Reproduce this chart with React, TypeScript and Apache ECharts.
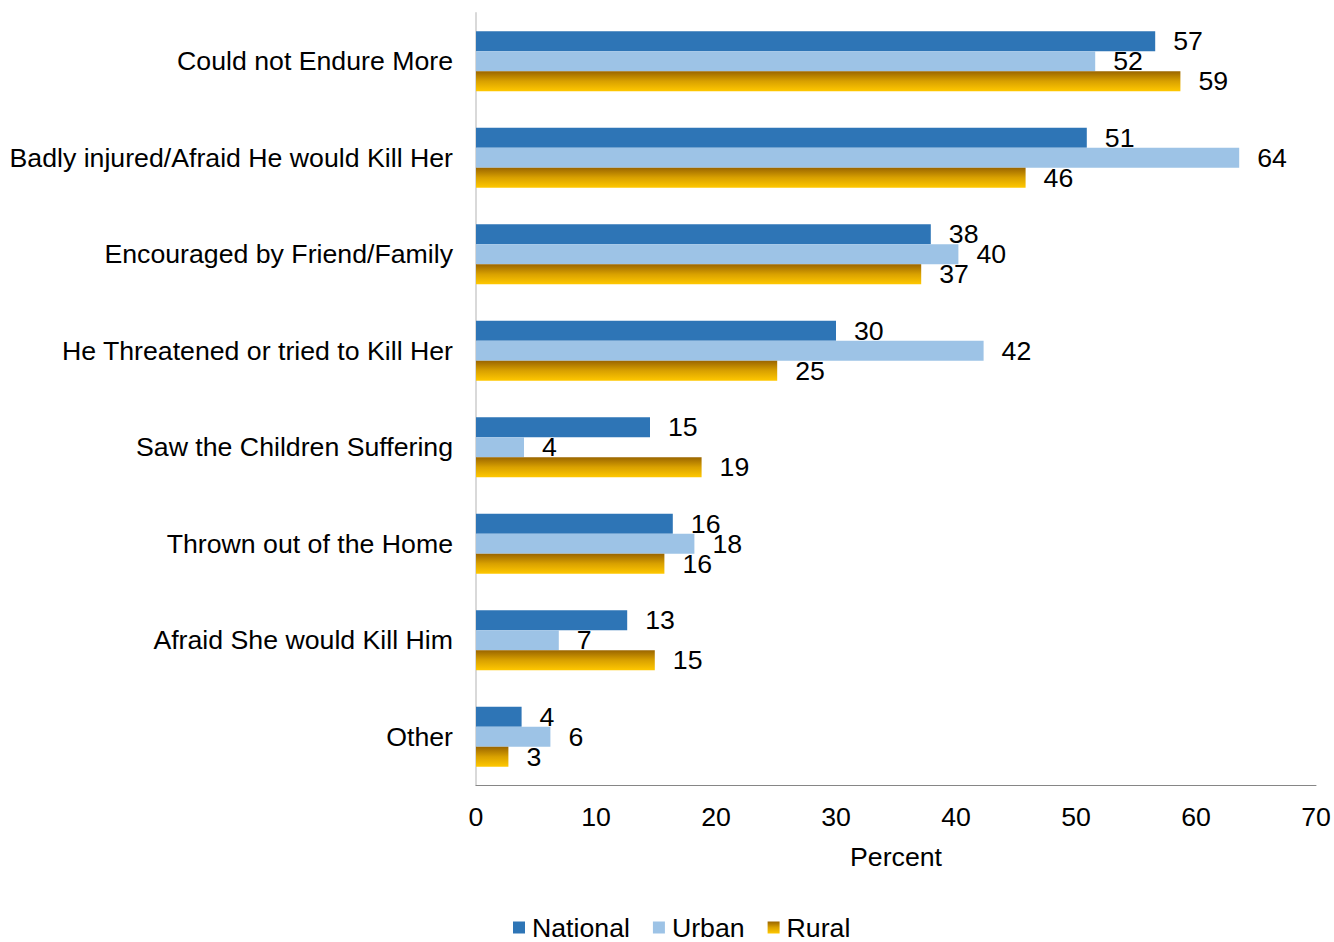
import React, { useEffect, useRef } from "react";
import * as echarts from "echarts";

const categories = [
  "Could not Endure More",
  "Badly injured/Afraid He would Kill Her",
  "Encouraged by Friend/Family",
  "He Threatened or tried to Kill Her",
  "Saw the Children Suffering",
  "Thrown out of the Home",
  "Afraid She would Kill Him",
  "Other",
];
const national = [56.6, 50.9, 37.9, 30.0, 14.5, 16.4, 12.6, 3.8];
const urban = [51.6, 63.6, 40.2, 42.3, 4.0, 18.2, 6.9, 6.2];
const rural = [58.7, 45.8, 37.1, 25.1, 18.8, 15.7, 14.9, 2.7];
const xTicks = { min: 0, max: 70, interval: 10 };

const FONT = "'Liberation Sans', Arial, sans-serif";
const FS = 26.7;

export default function App() {
  const ref = useRef<HTMLDivElement>(null);
  useEffect(() => {
    document.body.style.margin = "0";
    const chart = echarts.init(ref.current!, null, { renderer: "svg" });
    const label = {
      show: true,
      position: "right",
      distance: 18,
      fontSize: FS,
      fontFamily: FONT,
      color: "#000",
      formatter: (p: any) => String(Math.round(p.value)),
    };
    const ruralGradient = new echarts.graphic.LinearGradient(0, 0, 0, 1, [
      { offset: 0, color: "#9A6500" },
      { offset: 0.5, color: "#D9A100" },
      { offset: 1, color: "#FFC800" },
    ]);
    chart.setOption({
      animation: false,
      textStyle: { fontFamily: FONT },
      grid: { left: 476, right: 18, top: 13, bottom: 157, containLabel: false },
      legend: {
        left: 513,
        top: 914,
        padding: 0,
        itemWidth: 12,
        itemHeight: 12,
        itemGap: 23,
        icon: "rect",
        textStyle: {
          fontSize: FS,
          lineHeight: 22,
          color: "#000",
          fontFamily: FONT,
          padding: [0, 0, 0, 2],
        },
        data: ["National", "Urban", "Rural"],
      },
      xAxis: {
        type: "value",
        min: xTicks.min,
        max: xTicks.max,
        interval: xTicks.interval,
        name: "Percent",
        nameLocation: "middle",
        nameGap: 58,
        nameTextStyle: { fontSize: FS, color: "#000", fontFamily: FONT },
        splitLine: { show: false },
        axisTick: { show: false },
        axisLine: { show: true, lineStyle: { color: "#868686", width: 1 } },
        axisLabel: { fontSize: FS, color: "#000", fontFamily: FONT, margin: 18 },
      },
      yAxis: {
        type: "category",
        inverse: true,
        data: categories,
        axisTick: { show: false },
        axisLine: { show: true, lineStyle: { color: "#D9D9D9", width: 2 } },
        axisLabel: { fontSize: FS, color: "#000", fontFamily: FONT, margin: 23 },
      },
      series: [
        {
          name: "National",
          type: "bar",
          data: national,
          barWidth: 20,
          barGap: "0%",
          itemStyle: { color: "#2E75B6" },
          label,
        },
        {
          name: "Urban",
          type: "bar",
          data: urban,
          barWidth: 20,
          barGap: "0%",
          itemStyle: { color: "#9DC3E6" },
          label,
        },
        {
          name: "Rural",
          type: "bar",
          data: rural,
          barWidth: 20,
          barGap: "0%",
          itemStyle: { color: ruralGradient },
          label,
        },
      ],
    });
    return () => chart.dispose();
  }, []);
  return <div ref={ref} style={{ width: 1334, height: 942 }} />;
}
